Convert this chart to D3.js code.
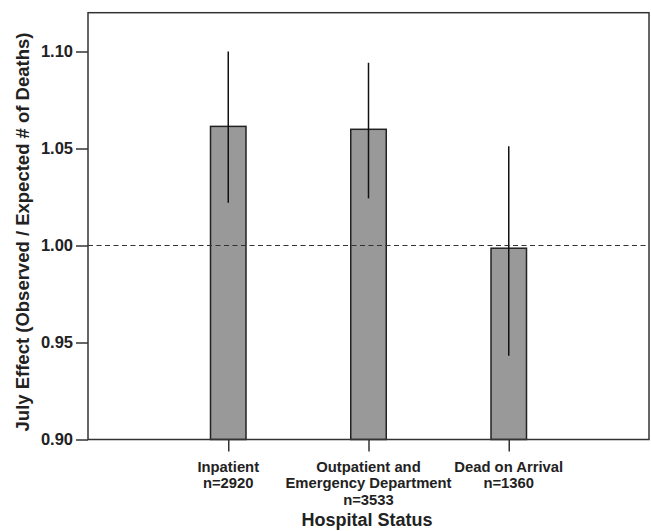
<!DOCTYPE html>
<html>
<head>
<meta charset="utf-8">
<script src="https://cdn.jsdelivr.net/npm/d3@7"></script>
<style>
  body { margin: 0; background: #fff; }
  text { font-family: "Liberation Sans", Arial, Helvetica, sans-serif; font-weight: bold; }
</style>
</head>
<body>
<script>
// data
const categories = ['Inpatient', 'Outpatient', 'DOA'];
const labelLines = [
  ['Inpatient', 'n=2920'],
  ['Outpatient and', 'Emergency Department', 'n=3533'],
  ['Dead on Arrival', 'n=1360']
];
const effect = [1.0614, 1.0599, 0.9986];
const lower = [1.0221, 1.0243, 0.9432];
const upper = [1.1000, 1.0942, 1.0511];
const yTicks = [0.90, 0.95, 1.00, 1.05, 1.10];

function renderBarChart() {
  // svg and margins
  const width = 651;
  const height = 531;
  const margin = { top: 12.7, right: 2, bottom: 91.5, left: 88 };

  const svg = d3.select('body')
    .append('svg')
    .attr('width', width)
    .attr('height', height);

  // scales
  const xScale = d3.scalePoint()
    .domain(categories)
    .range([margin.left, width - margin.right])
    .padding(1);

  const yScale = d3.scaleLinear()
    .domain([0.9, 1.12])
    .range([height - margin.bottom, margin.top]);

  const barWidth = 35.5;

  // bars
  svg.selectAll('.bar')
    .data(categories)
    .enter()
    .append('rect')
    .attr('class', 'bar')
    .attr('x', (d) => xScale(d) - barWidth / 2)
    .attr('y', (d, i) => yScale(effect[i]))
    .attr('width', barWidth)
    .attr('height', (d, i) => yScale(0.9) - yScale(effect[i]))
    .attr('fill', '#999999')
    .attr('stroke', '#222')
    .attr('stroke-width', 1.5);

  // reference line at 1
  svg.append('line')
    .attr('x1', margin.left)
    .attr('x2', width - margin.right)
    .attr('y1', yScale(1))
    .attr('y2', yScale(1))
    .attr('stroke', '#333')
    .attr('stroke-width', 1.2)
    .attr('stroke-dasharray', '5,3.5');

  // error bars
  svg.selectAll('.err')
    .data(categories)
    .enter()
    .append('line')
    .attr('class', 'err')
    .attr('x1', (d) => xScale(d))
    .attr('x2', (d) => xScale(d))
    .attr('y1', (d, i) => yScale(lower[i]))
    .attr('y2', (d, i) => yScale(upper[i]))
    .attr('stroke', '#111')
    .attr('stroke-width', 1.5);

  // y axis
  const yAxis = d3.axisLeft(yScale)
    .tickValues(yTicks)
    .tickFormat(d3.format('.2f'))
    .tickSize(12)
    .tickPadding(3);

  const yG = svg.append('g')
    .attr('transform', `translate(${margin.left}, 0)`)
    .call(yAxis);
  yG.select('.domain').remove();
  yG.selectAll('line').attr('stroke', '#333').attr('stroke-width', 1.5);
  yG.selectAll('text').attr('font-size', 16.5).attr('fill', '#222')
    .style('font-family', '"Liberation Sans", Arial, sans-serif');

  // x axis ticks
  const xAxis = d3.axisBottom(xScale)
    .tickSize(12)
    .tickFormat('');
  const xG = svg.append('g')
    .attr('transform', `translate(0, ${height - margin.bottom})`)
    .call(xAxis);
  xG.select('.domain').remove();
  xG.selectAll('line').attr('stroke', '#333').attr('stroke-width', 1.5);

  // multi-line category labels
  svg.selectAll('.xlabel')
    .data(categories)
    .enter()
    .append('text')
    .attr('class', 'xlabel')
    .attr('text-anchor', 'middle')
    .attr('font-size', 14.8)
    .attr('fill', '#222')
    .each(function (d, i) {
      d3.select(this).selectAll('tspan')
        .data(labelLines[i])
        .enter()
        .append('tspan')
        .attr('x', xScale(d))
        .attr('y', (t, j) => height - margin.bottom + 32 + j * 16.5)
        .text((t) => t);
    });

  // plot frame
  svg.append('rect')
    .attr('x', margin.left)
    .attr('y', margin.top)
    .attr('width', width - margin.left - margin.right)
    .attr('height', height - margin.top - margin.bottom)
    .attr('fill', 'none')
    .attr('stroke', '#333')
    .attr('stroke-width', 1.5);

  // axis titles
  svg.append('text')
    .attr('x', 367)
    .attr('y', 526)
    .attr('text-anchor', 'middle')
    .attr('font-size', 18)
    .attr('fill', '#222')
    .text('Hospital Status');

  svg.append('text')
    .attr('transform', 'translate(29, 232) rotate(-90)')
    .attr('text-anchor', 'middle')
    .attr('font-size', 18.5)
    .attr('fill', '#222')
    .text('July Effect (Observed / Expected # of Deaths)');
}

renderBarChart();
</script>
</body>
</html>
